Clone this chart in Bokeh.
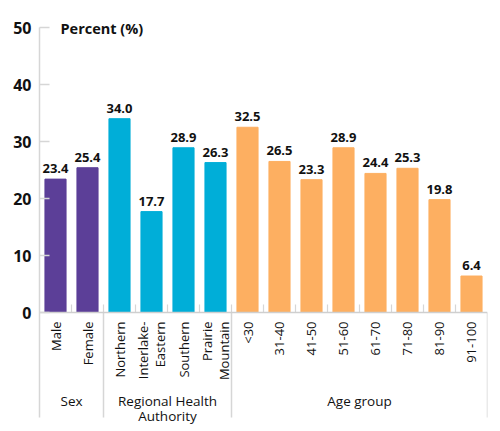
import math
from bokeh.plotting import figure
from bokeh.models import Range1d, FixedTicker, ColumnDataSource
from bokeh.core.properties import value
from bokeh.embed import file_html
from bokeh.resources import INLINE

# ---- data ----
categories = ["Male", "Female", "Northern", "Interlake-\nEastern", "Southern",
              "Prairie\nMountain", "<30", "31-40", "41-50", "51-60", "61-70",
              "71-80", "81-90", "91-100"]
values = [23.4, 25.4, 34.0, 17.7, 28.9, 26.3, 32.5, 26.5, 23.3, 28.9, 24.4,
          25.3, 19.8, 6.4]
groups = ["Sex", "Regional Health\nAuthority", "Age group"]
group_sizes = [2, 4, 8]
group_colors = ["#5C3F98", "#00AED8", "#FDAF61"]
y_ticks = [0, 10, 20, 30, 40, 50]
y_title = "Percent (%)"

FONT = "Open Sans"
n = len(categories)
xs = list(range(n))
colors = []
for c, s in zip(group_colors, group_sizes):
    colors += [c] * s

PX = 5.7                     # pixels per percent unit
Y_TOP = 50 + 12 / PX         # small headroom above the axis
Y_SEP = -105 / PX            # separator / axis line bottom
Y_BOT = Y_TOP - 413 / PX     # frame bottom

p = figure(width=492, height=429, output_backend="svg", toolbar_location=None,
           x_range=Range1d(-0.5, n - 0.5), y_range=Range1d(Y_BOT, Y_TOP),
           min_border_left=39, min_border_right=5, min_border_top=15,
           min_border_bottom=1)
p.outline_line_color = None
p.xgrid.visible = False
p.ygrid.visible = False
p.xaxis.visible = False
p.background_fill_color = "white"
p.border_fill_color = "white"

yax = p.yaxis[0]
yax.ticker = FixedTicker(ticks=y_ticks)
yax.bounds = (Y_SEP, 50)
yax.axis_line_color = "#d6d6d6"
yax.axis_line_width = 1.5
yax.major_tick_line_color = "#d6d6d6"
yax.major_tick_line_width = 1.5
yax.major_tick_in = 10
yax.major_tick_out = 0
yax.minor_tick_line_color = None
yax.major_label_text_font = FONT
yax.major_label_text_font_style = "bold"
yax.major_label_text_font_size = "16px"
yax.major_label_text_color = "#111111"
yax.major_label_standoff = 8

src = ColumnDataSource(dict(x=xs, top=values, color=colors,
                            lbl=[f"{v:.1f}" for v in values],
                            cat=categories))

# separators and minor ticks
bounds = [-0.5]
for s in group_sizes:
    bounds.append(bounds[-1] + s)
inner = [b + 0.5 for b in range(n - 1)]
p.segment(x0=inner, x1=inner, y0=[0] * len(inner), y1=[8 / PX] * len(inner),
          line_color="#d6d6d6", line_width=1.2)
p.segment(x0=bounds[1:], x1=bounds[1:], y0=[0] * (len(bounds) - 1),
          y1=[Y_SEP] * (len(bounds) - 1), line_color="#d6d6d6", line_width=1.5)

p.vbar(x="x", top="top", bottom=0, width=0.66, color="color", source=src,
       line_color="color")
p.segment(x0=[-0.5], x1=[n - 0.5], y0=[0], y1=[0], line_color="#cfcfcf",
          line_width=1.5)

# value labels
p.text(x="x", y="top", text="lbl", source=src, text_align="center",
       text_baseline="bottom", y_offset=-6, text_font=value(FONT),
       text_font_style="bold", text_font_size="13px", text_color="#111111")

# category labels (rotated)
p.text(x="x", y=0, text="cat", source=src, angle=math.pi / 2,
       text_align="right", text_baseline="middle", y_offset=9,
       text_font=value(FONT), text_font_size="13px", text_color="#111111",
       text_line_height=0.95)

# group labels
gx = [(bounds[i] + bounds[i + 1]) / 2 for i in range(len(groups))]
p.text(x=gx, y=[0] * len(gx), text=groups, text_align="center",
       text_baseline="top", y_offset=79, text_font=value(FONT),
       text_font_size="13.5px", text_color="#111111", text_line_height=0.85)

# axis title
p.text(x=[-0.5], y=[50], text=[y_title], text_align="left",
       text_baseline="middle", x_offset=21, y_offset=1, text_font=value(FONT),
       text_font_style="bold", text_font_size="14.5px", text_color="#111111")

open("out.html", "w").write(file_html(p, INLINE))
